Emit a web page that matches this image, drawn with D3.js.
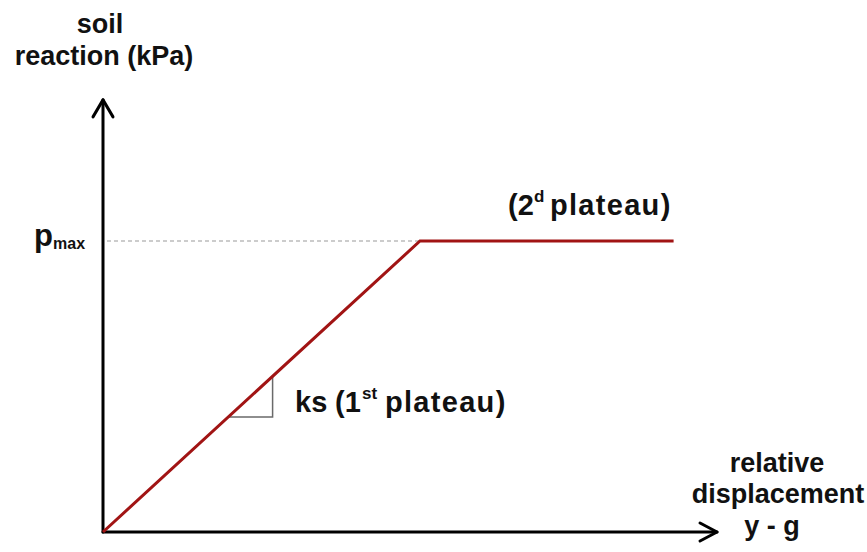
<!DOCTYPE html>
<html>
<head>
<meta charset="utf-8">
<script src="https://cdn.jsdelivr.net/npm/d3@7"></script>
<style>
  html, body { margin: 0; padding: 0; background: #fff; }
  svg { display: block; }
  text { font-family: "Liberation Sans", Arial, sans-serif; font-weight: bold; fill: #111; }
</style>
</head>
<body>
<svg id="chart" width="867" height="552"></svg>
<script>
// Elasto-plastic soil reaction law (p-y curve)
const displacement = [0, 1, 1.8];      // relative displacement y - g (normalised)
const reaction     = [0, 1, 1];        // soil reaction p / pmax
const axisMaxX = 1.937;                // extent of the displacement arrow
const axisMaxY = 1.485;                // extent of the reaction arrow
const slopeTriangle = [0.395, 0.535];  // run of the ks slope marker
const pmax = 1;

const svg = d3.select("#chart");

const x = d3.scaleLinear().domain([0, 1]).range([103, 420]);
const y = d3.scaleLinear().domain([0, 1]).range([532, 241]);

// dashed guide at pmax
svg.append("line")
  .attr("x1", x(0) + 4).attr("x2", x(1))
  .attr("y1", y(pmax)).attr("y2", y(pmax))
  .attr("stroke", "#9a9a9a").attr("stroke-width", 1.2)
  .attr("stroke-dasharray", "4,3");

// slope marker (ks)
const lineAt = v => v; // reaction on the elastic branch
const [t0, t1] = slopeTriangle;
svg.append("path")
  .attr("d", `M${x(t0)},${y(lineAt(t0))} H${x(t1)} V${y(lineAt(t1))}`)
  .attr("fill", "none").attr("stroke", "#6a6a6a").attr("stroke-width", 1.5);

// axes with open arrowheads
const axisG = svg.append("g").attr("stroke", "#000").attr("stroke-width", 3).attr("fill", "none")
  .attr("stroke-linecap", "round").attr("stroke-linejoin", "round");
axisG.append("line").attr("x1", x(0)).attr("y1", y(0)).attr("x2", x(0)).attr("y2", y(axisMaxY));
axisG.append("line").attr("x1", x(0)).attr("y1", y(0)).attr("x2", x(axisMaxX)).attr("y2", y(0));
axisG.append("path")
  .attr("d", `M${x(0) - 10},${y(axisMaxY) + 17} L${x(0)},${y(axisMaxY)} L${x(0) + 10},${y(axisMaxY) + 17}`);
axisG.append("path")
  .attr("d", `M${x(axisMaxX) - 17},${y(0) - 9} L${x(axisMaxX)},${y(0)} L${x(axisMaxX) - 17},${y(0) + 9}`);

// the soil reaction curve
const curve = d3.line().x(d => x(d[0])).y(d => y(d[1]));
svg.append("path")
  .datum(d3.zip(displacement, reaction))
  .attr("d", curve)
  .attr("fill", "none").attr("stroke", "#a11414").attr("stroke-width", 3)
  .attr("stroke-linejoin", "miter");

// axis titles
svg.append("text").attr("x", 100).attr("y", 33).attr("text-anchor", "middle")
  .attr("font-size", 27).text("soil");
svg.append("text").attr("x", 104).attr("y", 65).attr("text-anchor", "middle")
  .attr("font-size", 27).text("reaction (kPa)");

svg.append("text").attr("x", 777).attr("y", 472).attr("text-anchor", "middle")
  .attr("font-size", 27).text("relative");
svg.append("text").attr("x", 778).attr("y", 503).attr("text-anchor", "middle")
  .attr("font-size", 27).text("displacement");
svg.append("text").attr("x", 772).attr("y", 535).attr("text-anchor", "middle")
  .attr("font-size", 27).text("y - g");

// pmax label
svg.append("text").attr("x", 34).attr("y", y(pmax) + 5).attr("font-size", 31).text("p");
svg.append("text").attr("x", 53).attr("y", y(pmax) + 8).attr("font-size", 16).text("max");

// plateau labels
const lab1 = svg.append("text").attr("y", 412).attr("font-size", 29);
lab1.append("tspan").attr("x", 295).text("ks");
lab1.append("tspan").attr("x", 335).text("(1");
lab1.append("tspan").attr("x", 362).attr("dy", -13).attr("font-size", 17).text("st");
lab1.append("tspan").attr("x", 385).attr("dy", 13).attr("letter-spacing", 1.3).text("plateau)");

const lab2 = svg.append("text").attr("y", 215).attr("font-size", 29);
lab2.append("tspan").attr("x", 508).text("(2");
lab2.append("tspan").attr("x", 534).attr("dy", -13).attr("font-size", 17).text("d");
lab2.append("tspan").attr("x", 550).attr("dy", 13).attr("letter-spacing", 1.3).text("plateau)");
</script>
</body>
</html>
